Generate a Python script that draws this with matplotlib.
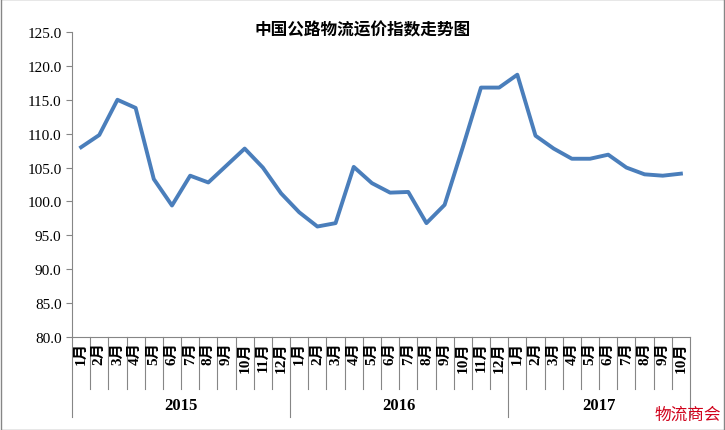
import matplotlib

matplotlib.use("Agg")
import matplotlib.pyplot as plt
import matplotlib.transforms as mtransforms

years = ["2015", "2016", "2017"]
months_per_year = [12, 12, 10]
values = [
    108.0, 109.8, 115.0, 113.8, 103.3, 99.4, 103.8, 102.8, 105.3, 107.8, 105.0, 101.2,
    98.4, 96.3, 96.8, 105.1, 102.7, 101.3, 101.4, 96.8, 99.5, 108.0, 116.8, 116.8,
    118.7, 109.7, 107.8, 106.3, 106.3, 106.9, 105.0, 104.0, 103.8, 104.1,
]
month_labels = [f"{m}月" for n in months_per_year for m in range(1, n + 1)]

FONT = ["Liberation Serif", "Noto Sans CJK SC"]
LINE = "#4a7ebb"
AXIS = "#868686"

fig = plt.figure(figsize=(7.25, 4.31), dpi=100)
ax = fig.add_axes([72 / 725, 1 - 338 / 431, (690 - 72) / 725, (338 - 33) / 431])
x = list(range(len(values)))
ax.plot(x, values, color=LINE, linewidth=2.8, solid_joinstyle="round")
ax.set_xlim(-0.5, len(values) - 0.5)
ax.set_ylim(80, 125)
ax.set_yticks(range(80, 126, 5))
ax.set_yticklabels([f"{v:.1f}" for v in range(80, 126, 5)], family=FONT, fontsize=11)
ax.tick_params(axis="y", length=4, color=AXIS, direction="out")
ax.set_xticks([])
for s in ["top", "right"]:
    ax.spines[s].set_visible(False)
for s in ["left", "bottom"]:
    ax.spines[s].set_color(AXIS)

trans = mtransforms.blended_transform_factory(ax.transData, ax.transAxes)
ax_h = (338 - 33)
def yax(px):  # pixel offset below axis -> axes coords
    return -px / ax_h

for i, lab in enumerate(month_labels):
    ax.text(i, yax(4), "\n".join([lab[:-1], lab[-1]]) if False else lab, transform=trans,
            rotation=90, ha="center", va="top", family=FONT, fontsize=11, fontweight="bold")

starts = [0]
for n in months_per_year:
    starts.append(starts[-1] + n)
for i in range(len(values) + 1):
    depth = 80 if i in starts else 52
    ax.plot([i - 0.5, i - 0.5], [0, yax(depth)], transform=trans, color=AXIS,
            linewidth=0.8, clip_on=False)
for y0, y1, yr in zip(starts[:-1], starts[1:], years):
    ax.text((y0 + y1 - 1) / 2, yax(68), yr, transform=trans, ha="center", va="center",
            family=FONT, fontsize=12, fontweight="bold")

fig.text(0.5, 1 - 30 / 431, "中国公路物流运价指数走势图", ha="center", va="center",
         family=["Noto Sans CJK SC"], fontsize=12, fontweight="bold")
fig.text(0.995, 1 - 415 / 431, "物流商会", ha="right", va="center",
         family=["Noto Sans CJK SC"], fontsize=12, color="#d0021b")
fig.patches.append(plt.Rectangle((0.001, 0.001), 0.998, 0.998, transform=fig.transFigure,
                                 fill=False, edgecolor=AXIS, linewidth=1))
fig.savefig("out.png", dpi=100, facecolor="white")
